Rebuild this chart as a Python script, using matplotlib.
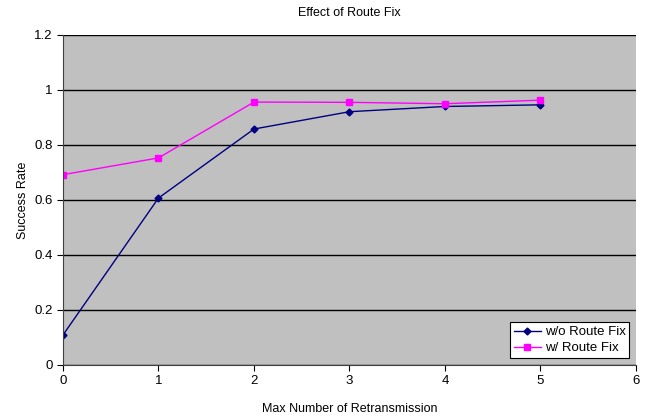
import matplotlib.pyplot as plt

plt.rcParams['font.family'] = ['Liberation Sans', 'DejaVu Sans']

# 数据
retrans = [0, 1, 2, 3, 4, 5]
wo_fix = [0.109, 0.607, 0.858, 0.921, 0.940, 0.946]
w_fix = [0.692, 0.753, 0.956, 0.955, 0.950, 0.963]

fig = plt.figure(figsize=(6.56, 4.19), dpi=100)
ax = fig.add_axes([0.096, 0.129, 0.8735, 0.7875])
ax.set_facecolor('#C0C0C0')

ax.plot(retrans, wo_fix, color='#000080', marker='D', markersize=3.5, linewidth=1, label='w/o Route Fix')
ax.plot(retrans, w_fix, color='#FF00FF', marker='s', markersize=4.5, linewidth=1, label='w/ Route Fix')

ax.set_xlim(0, 6)
ax.set_ylim(0, 1.2)
ax.set_xticks(range(0, 7))
ax.set_yticks([0, 0.2, 0.4, 0.6, 0.8, 1, 1.2])
ax.set_yticklabels(['0', '0.2', '0.4', '0.6', '0.8', '1', '1.2'])
ax.yaxis.grid(True, color='black', linewidth=1)
ax.set_axisbelow(True)
for s in ['top', 'right']:
    ax.spines[s].set_visible(False)
ax.spines['left'].set_color('#404040')
ax.spines['bottom'].set_color('#404040')
ax.tick_params(labelsize=9.5, length=4, direction='out')

ax.set_xlabel('Max Number of Retransmission', fontsize=9, labelpad=11)
ax.set_ylabel('Success Rate', fontsize=9)
ax.set_title('Effect of Route Fix', fontsize=9, pad=14)

leg = ax.legend(loc='lower right', fontsize=9.5, fancybox=False, framealpha=1,
                edgecolor='black', borderaxespad=0.5, handlelength=2, handletextpad=0.3,
                borderpad=0.3, labelspacing=0.3)
leg.get_frame().set_linewidth(0.8)

plt.savefig('out.png', dpi=100)
